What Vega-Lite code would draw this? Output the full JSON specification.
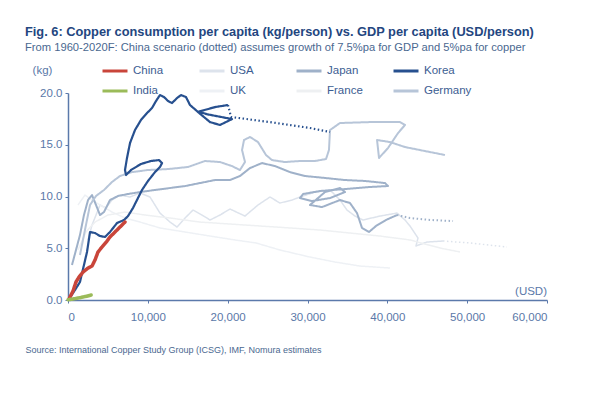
{
  "$schema": "https://vega.github.io/schema/vega-lite/v6.json",
  "width": 479,
  "height": 207,
  "autosize": {"type": "none"},
  "padding": {"left": 68, "top": 93, "right": 57, "bottom": 93},
  "background": "white",
  "title": {
    "text": "Fig. 6:  Copper consumption per capita (kg/person) vs. GDP per capita (USD/person)",
    "subtitle": "From 1960-2020F: China scenario (dotted) assumes growth of 7.5%pa for GDP and 5%pa for copper",
    "anchor": "start",
    "frame": "group",
    "dx": -43,
    "offset": 4,
    "color": "#23467f",
    "font": "Liberation Sans",
    "fontSize": 12.8,
    "fontWeight": "bold",
    "subtitleColor": "#4a6890",
    "subtitleFont": "Liberation Sans",
    "subtitleFontSize": 11.2,
    "subtitlePadding": 3
  },
  "config": {
    "view": {"stroke": null},
    "font": "Liberation Sans"
  },
  "data": {
    "values": [
      {"c": "China", "s": "a", "i": 1, "x": 130, "y": 0.10},
      {"c": "China", "s": "a", "i": 2, "x": 630, "y": 0.87},
      {"c": "China", "s": "a", "i": 3, "x": 1000, "y": 1.74},
      {"c": "China", "s": "a", "i": 4, "x": 1380, "y": 2.22},
      {"c": "China", "s": "a", "i": 5, "x": 1880, "y": 2.70},
      {"c": "China", "s": "a", "i": 6, "x": 2510, "y": 3.09},
      {"c": "China", "s": "a", "i": 7, "x": 3010, "y": 3.28},
      {"c": "China", "s": "a", "i": 8, "x": 3380, "y": 3.86},
      {"c": "China", "s": "a", "i": 9, "x": 3760, "y": 4.64},
      {"c": "China", "s": "a", "i": 10, "x": 4260, "y": 5.12},
      {"c": "China", "s": "a", "i": 11, "x": 4890, "y": 5.70},
      {"c": "China", "s": "a", "i": 12, "x": 5260, "y": 6.09},
      {"c": "China", "s": "a", "i": 13, "x": 5890, "y": 6.57},
      {"c": "China", "s": "a", "i": 14, "x": 6510, "y": 7.05},
      {"c": "China", "s": "a", "i": 15, "x": 7140, "y": 7.53},

      {"c": "India", "s": "a", "i": 1, "x": 0, "y": 0.02},
      {"c": "India", "s": "a", "i": 2, "x": 800, "y": 0.12},
      {"c": "India", "s": "a", "i": 3, "x": 1600, "y": 0.24},
      {"c": "India", "s": "a", "i": 4, "x": 2300, "y": 0.36},
      {"c": "India", "s": "a", "i": 5, "x": 2900, "y": 0.48},

      {"c": "Korea", "s": "a", "i": 1, "x": 130, "y": 0.10},
      {"c": "Korea", "s": "a", "i": 2, "x": 880, "y": 0.97},
      {"c": "Korea", "s": "a", "i": 3, "x": 1500, "y": 1.74},
      {"c": "Korea", "s": "a", "i": 4, "x": 2000, "y": 3.38},
      {"c": "Korea", "s": "a", "i": 5, "x": 2380, "y": 4.64},
      {"c": "Korea", "s": "a", "i": 6, "x": 2760, "y": 6.57},
      {"c": "Korea", "s": "a", "i": 7, "x": 3380, "y": 6.47},
      {"c": "Korea", "s": "a", "i": 8, "x": 4010, "y": 6.18},
      {"c": "Korea", "s": "a", "i": 9, "x": 4630, "y": 6.09},
      {"c": "Korea", "s": "a", "i": 10, "x": 5260, "y": 6.57},
      {"c": "Korea", "s": "a", "i": 11, "x": 6140, "y": 7.44},
      {"c": "Korea", "s": "a", "i": 12, "x": 7020, "y": 7.73},
      {"c": "Korea", "s": "a", "i": 13, "x": 7520, "y": 8.11},
      {"c": "Korea", "s": "a", "i": 14, "x": 8140, "y": 8.89},
      {"c": "Korea", "s": "a", "i": 15, "x": 8640, "y": 9.66},
      {"c": "Korea", "s": "a", "i": 16, "x": 9270, "y": 10.63},
      {"c": "Korea", "s": "a", "i": 17, "x": 10020, "y": 11.50},
      {"c": "Korea", "s": "a", "i": 18, "x": 10900, "y": 12.36},
      {"c": "Korea", "s": "a", "i": 19, "x": 11520, "y": 12.85},
      {"c": "Korea", "s": "a", "i": 20, "x": 11780, "y": 13.23},
      {"c": "Korea", "s": "a", "i": 21, "x": 11400, "y": 13.52},
      {"c": "Korea", "s": "a", "i": 22, "x": 10400, "y": 13.43},
      {"c": "Korea", "s": "a", "i": 23, "x": 9140, "y": 13.14},
      {"c": "Korea", "s": "a", "i": 24, "x": 7890, "y": 12.56},
      {"c": "Korea", "s": "a", "i": 25, "x": 7270, "y": 12.08},
      {"c": "Korea", "s": "a", "i": 26, "x": 7140, "y": 12.56},
      {"c": "Korea", "s": "a", "i": 27, "x": 7390, "y": 13.72},
      {"c": "Korea", "s": "a", "i": 28, "x": 7770, "y": 15.17},
      {"c": "Korea", "s": "a", "i": 29, "x": 8390, "y": 16.42},
      {"c": "Korea", "s": "a", "i": 30, "x": 9140, "y": 17.39},
      {"c": "Korea", "s": "a", "i": 31, "x": 9900, "y": 18.06},
      {"c": "Korea", "s": "a", "i": 32, "x": 10520, "y": 18.55},
      {"c": "Korea", "s": "a", "i": 33, "x": 11020, "y": 19.22},
      {"c": "Korea", "s": "a", "i": 34, "x": 11520, "y": 19.80},
      {"c": "Korea", "s": "a", "i": 35, "x": 12030, "y": 19.61},
      {"c": "Korea", "s": "a", "i": 36, "x": 12530, "y": 19.22},
      {"c": "Korea", "s": "a", "i": 37, "x": 13030, "y": 19.03},
      {"c": "Korea", "s": "a", "i": 38, "x": 13650, "y": 19.51},
      {"c": "Korea", "s": "a", "i": 39, "x": 14160, "y": 19.80},
      {"c": "Korea", "s": "a", "i": 40, "x": 14780, "y": 19.61},
      {"c": "Korea", "s": "a", "i": 41, "x": 15280, "y": 18.84},
      {"c": "Korea", "s": "a", "i": 42, "x": 16530, "y": 18.00},
      {"c": "Korea", "s": "a", "i": 43, "x": 17790, "y": 17.19},
      {"c": "Korea", "s": "a", "i": 44, "x": 19040, "y": 16.91},
      {"c": "Korea", "s": "a", "i": 45, "x": 20540, "y": 17.48},
      {"c": "Korea", "s": "a", "i": 46, "x": 17400, "y": 17.95},
      {"c": "Korea", "s": "a", "i": 47, "x": 16400, "y": 18.20},
      {"c": "Korea", "s": "a", "i": 48, "x": 18410, "y": 18.64},
      {"c": "Korea", "s": "a", "i": 49, "x": 20040, "y": 18.84},
      {"c": "Korea", "s": "f", "i": 1, "x": 20040, "y": 18.84},
      {"c": "Korea", "s": "f", "i": 2, "x": 20420, "y": 17.68},
      {"c": "Korea", "s": "f", "i": 3, "x": 25300, "y": 17.19},
      {"c": "Korea", "s": "f", "i": 4, "x": 30310, "y": 16.62},
      {"c": "Korea", "s": "f", "i": 5, "x": 32820, "y": 16.23},

      {"c": "Japan", "s": "a", "i": 1, "x": 500, "y": 3.38},
      {"c": "Japan", "s": "a", "i": 2, "x": 1000, "y": 4.83},
      {"c": "Japan", "s": "a", "i": 3, "x": 1500, "y": 6.28},
      {"c": "Japan", "s": "a", "i": 4, "x": 2000, "y": 8.21},
      {"c": "Japan", "s": "a", "i": 5, "x": 2510, "y": 9.66},
      {"c": "Japan", "s": "a", "i": 6, "x": 3010, "y": 10.14},
      {"c": "Japan", "s": "a", "i": 7, "x": 3510, "y": 9.18},
      {"c": "Japan", "s": "a", "i": 8, "x": 4010, "y": 8.21},
      {"c": "Japan", "s": "a", "i": 9, "x": 4510, "y": 8.50},
      {"c": "Japan", "s": "a", "i": 10, "x": 5260, "y": 9.66},
      {"c": "Japan", "s": "a", "i": 11, "x": 6260, "y": 10.05},
      {"c": "Japan", "s": "a", "i": 12, "x": 7520, "y": 10.24},
      {"c": "Japan", "s": "a", "i": 13, "x": 9020, "y": 10.43},
      {"c": "Japan", "s": "a", "i": 14, "x": 10900, "y": 10.63},
      {"c": "Japan", "s": "a", "i": 15, "x": 12780, "y": 10.82},
      {"c": "Japan", "s": "a", "i": 16, "x": 14660, "y": 11.01},
      {"c": "Japan", "s": "a", "i": 17, "x": 16530, "y": 11.30},
      {"c": "Japan", "s": "a", "i": 18, "x": 18410, "y": 11.59},
      {"c": "Japan", "s": "a", "i": 19, "x": 20290, "y": 11.59},
      {"c": "Japan", "s": "a", "i": 20, "x": 21540, "y": 11.98},
      {"c": "Japan", "s": "a", "i": 21, "x": 22800, "y": 12.75},
      {"c": "Japan", "s": "a", "i": 22, "x": 24300, "y": 13.23},
      {"c": "Japan", "s": "a", "i": 23, "x": 25930, "y": 12.94},
      {"c": "Japan", "s": "a", "i": 24, "x": 27810, "y": 12.36},
      {"c": "Japan", "s": "a", "i": 25, "x": 29690, "y": 11.98},
      {"c": "Japan", "s": "a", "i": 26, "x": 32190, "y": 11.79},
      {"c": "Japan", "s": "a", "i": 27, "x": 34700, "y": 11.59},
      {"c": "Japan", "s": "a", "i": 28, "x": 37200, "y": 11.50},
      {"c": "Japan", "s": "a", "i": 29, "x": 39710, "y": 11.30},
      {"c": "Japan", "s": "a", "i": 30, "x": 40080, "y": 11.01},
      {"c": "Japan", "s": "a", "i": 31, "x": 37830, "y": 10.92},
      {"c": "Japan", "s": "a", "i": 32, "x": 34700, "y": 10.72},
      {"c": "Japan", "s": "a", "i": 33, "x": 31570, "y": 10.53},
      {"c": "Japan", "s": "a", "i": 34, "x": 29440, "y": 10.24},
      {"c": "Japan", "s": "a", "i": 35, "x": 29060, "y": 9.85},
      {"c": "Japan", "s": "a", "i": 36, "x": 30560, "y": 9.56},
      {"c": "Japan", "s": "a", "i": 37, "x": 32820, "y": 9.85},
      {"c": "Japan", "s": "a", "i": 38, "x": 34700, "y": 10.43},
      {"c": "Japan", "s": "a", "i": 39, "x": 34070, "y": 10.82},
      {"c": "Japan", "s": "a", "i": 40, "x": 32190, "y": 10.43},
      {"c": "Japan", "s": "a", "i": 41, "x": 30310, "y": 9.18},
      {"c": "Japan", "s": "a", "i": 42, "x": 31820, "y": 8.98},
      {"c": "Japan", "s": "a", "i": 43, "x": 34070, "y": 9.66},
      {"c": "Japan", "s": "a", "i": 44, "x": 35320, "y": 9.37},
      {"c": "Japan", "s": "a", "i": 45, "x": 36200, "y": 8.40},
      {"c": "Japan", "s": "a", "i": 46, "x": 36830, "y": 6.96},
      {"c": "Japan", "s": "a", "i": 47, "x": 37700, "y": 6.57},
      {"c": "Japan", "s": "a", "i": 48, "x": 38580, "y": 7.15},
      {"c": "Japan", "s": "a", "i": 49, "x": 39830, "y": 7.73},
      {"c": "Japan", "s": "a", "i": 50, "x": 41210, "y": 8.21},
      {"c": "Japan", "s": "f", "i": 1, "x": 41210, "y": 8.21},
      {"c": "Japan", "s": "f", "i": 2, "x": 42840, "y": 7.92},
      {"c": "Japan", "s": "f", "i": 3, "x": 45340, "y": 7.73},
      {"c": "Japan", "s": "f", "i": 4, "x": 48230, "y": 7.63},

      {"c": "Germany", "s": "a", "i": 1, "x": 1500, "y": 4.35},
      {"c": "Germany", "s": "a", "i": 2, "x": 2250, "y": 7.25},
      {"c": "Germany", "s": "a", "i": 3, "x": 2760, "y": 9.18},
      {"c": "Germany", "s": "a", "i": 4, "x": 3510, "y": 10.05},
      {"c": "Germany", "s": "a", "i": 5, "x": 4510, "y": 10.63},
      {"c": "Germany", "s": "a", "i": 6, "x": 5510, "y": 11.40},
      {"c": "Germany", "s": "a", "i": 7, "x": 6510, "y": 11.98},
      {"c": "Germany", "s": "a", "i": 8, "x": 8020, "y": 12.36},
      {"c": "Germany", "s": "a", "i": 9, "x": 10020, "y": 12.56},
      {"c": "Germany", "s": "a", "i": 10, "x": 12530, "y": 12.65},
      {"c": "Germany", "s": "a", "i": 11, "x": 15030, "y": 12.85},
      {"c": "Germany", "s": "a", "i": 12, "x": 17160, "y": 13.43},
      {"c": "Germany", "s": "a", "i": 13, "x": 19040, "y": 13.33},
      {"c": "Germany", "s": "a", "i": 14, "x": 20540, "y": 12.94},
      {"c": "Germany", "s": "a", "i": 15, "x": 21540, "y": 12.56},
      {"c": "Germany", "s": "a", "i": 16, "x": 22170, "y": 13.33},
      {"c": "Germany", "s": "a", "i": 17, "x": 21800, "y": 14.49},
      {"c": "Germany", "s": "a", "i": 18, "x": 22050, "y": 15.46},
      {"c": "Germany", "s": "a", "i": 19, "x": 22800, "y": 15.75},
      {"c": "Germany", "s": "a", "i": 20, "x": 23800, "y": 15.26},
      {"c": "Germany", "s": "a", "i": 21, "x": 24800, "y": 14.01},
      {"c": "Germany", "s": "a", "i": 22, "x": 25550, "y": 13.52},
      {"c": "Germany", "s": "a", "i": 23, "x": 27180, "y": 13.33},
      {"c": "Germany", "s": "a", "i": 24, "x": 29060, "y": 13.43},
      {"c": "Germany", "s": "a", "i": 25, "x": 30940, "y": 13.43},
      {"c": "Germany", "s": "a", "i": 26, "x": 32320, "y": 13.62},
      {"c": "Germany", "s": "a", "i": 27, "x": 32690, "y": 14.49},
      {"c": "Germany", "s": "a", "i": 28, "x": 32820, "y": 16.42},
      {"c": "Germany", "s": "a", "i": 29, "x": 34070, "y": 17.10},
      {"c": "Germany", "s": "a", "i": 30, "x": 37830, "y": 17.19},
      {"c": "Germany", "s": "a", "i": 31, "x": 41590, "y": 17.19},
      {"c": "Germany", "s": "a", "i": 32, "x": 42210, "y": 16.91},
      {"c": "Germany", "s": "a", "i": 33, "x": 41340, "y": 16.13},
      {"c": "Germany", "s": "a", "i": 34, "x": 40080, "y": 14.68},
      {"c": "Germany", "s": "a", "i": 35, "x": 38960, "y": 13.72},
      {"c": "Germany", "s": "a", "i": 36, "x": 38710, "y": 15.46},
      {"c": "Germany", "s": "a", "i": 37, "x": 40330, "y": 15.26},
      {"c": "Germany", "s": "a", "i": 38, "x": 42210, "y": 14.78},
      {"c": "Germany", "s": "a", "i": 39, "x": 44720, "y": 14.39},
      {"c": "Germany", "s": "a", "i": 40, "x": 47220, "y": 14.01},

      {"c": "USA", "s": "a", "i": 1, "x": 2510, "y": 5.80},
      {"c": "USA", "s": "a", "i": 2, "x": 3010, "y": 7.25},
      {"c": "USA", "s": "a", "i": 3, "x": 3510, "y": 8.21},
      {"c": "USA", "s": "a", "i": 4, "x": 4010, "y": 9.18},
      {"c": "USA", "s": "a", "i": 5, "x": 4760, "y": 8.89},
      {"c": "USA", "s": "a", "i": 6, "x": 5510, "y": 9.66},
      {"c": "USA", "s": "a", "i": 7, "x": 6510, "y": 10.14},
      {"c": "USA", "s": "a", "i": 8, "x": 7770, "y": 9.95},
      {"c": "USA", "s": "a", "i": 9, "x": 9020, "y": 10.34},
      {"c": "USA", "s": "a", "i": 10, "x": 10270, "y": 9.95},
      {"c": "USA", "s": "a", "i": 11, "x": 11520, "y": 8.40},
      {"c": "USA", "s": "a", "i": 12, "x": 12780, "y": 7.53},
      {"c": "USA", "s": "a", "i": 13, "x": 13650, "y": 7.05},
      {"c": "USA", "s": "a", "i": 14, "x": 14660, "y": 7.92},
      {"c": "USA", "s": "a", "i": 15, "x": 15660, "y": 8.69},
      {"c": "USA", "s": "a", "i": 16, "x": 16780, "y": 8.21},
      {"c": "USA", "s": "a", "i": 17, "x": 17790, "y": 7.73},
      {"c": "USA", "s": "a", "i": 18, "x": 19040, "y": 8.21},
      {"c": "USA", "s": "a", "i": 19, "x": 20290, "y": 8.79},
      {"c": "USA", "s": "a", "i": 20, "x": 22170, "y": 8.11},
      {"c": "USA", "s": "a", "i": 21, "x": 23800, "y": 9.18},
      {"c": "USA", "s": "a", "i": 22, "x": 25300, "y": 9.95},
      {"c": "USA", "s": "a", "i": 23, "x": 26550, "y": 9.37},
      {"c": "USA", "s": "a", "i": 24, "x": 28060, "y": 9.66},
      {"c": "USA", "s": "a", "i": 25, "x": 29060, "y": 9.95},
      {"c": "USA", "s": "a", "i": 26, "x": 30940, "y": 10.43},
      {"c": "USA", "s": "a", "i": 27, "x": 32820, "y": 10.63},
      {"c": "USA", "s": "a", "i": 28, "x": 34070, "y": 9.66},
      {"c": "USA", "s": "a", "i": 29, "x": 34950, "y": 8.69},
      {"c": "USA", "s": "a", "i": 30, "x": 35950, "y": 8.11},
      {"c": "USA", "s": "a", "i": 31, "x": 36950, "y": 7.73},
      {"c": "USA", "s": "a", "i": 32, "x": 39080, "y": 8.11},
      {"c": "USA", "s": "a", "i": 33, "x": 41210, "y": 8.40},
      {"c": "USA", "s": "a", "i": 34, "x": 42210, "y": 7.73},
      {"c": "USA", "s": "a", "i": 35, "x": 42840, "y": 7.15},
      {"c": "USA", "s": "a", "i": 36, "x": 43840, "y": 5.99},
      {"c": "USA", "s": "a", "i": 37, "x": 43590, "y": 5.22},
      {"c": "USA", "s": "a", "i": 38, "x": 44970, "y": 5.60},
      {"c": "USA", "s": "a", "i": 39, "x": 46970, "y": 5.70},
      {"c": "USA", "s": "f", "i": 1, "x": 46970, "y": 5.70},
      {"c": "USA", "s": "f", "i": 2, "x": 50350, "y": 5.51},
      {"c": "USA", "s": "f", "i": 3, "x": 54990, "y": 5.12},

      {"c": "UK", "s": "a", "i": 1, "x": 1250, "y": 9.18},
      {"c": "UK", "s": "a", "i": 2, "x": 2130, "y": 10.14},
      {"c": "UK", "s": "a", "i": 3, "x": 3010, "y": 9.66},
      {"c": "UK", "s": "a", "i": 4, "x": 4010, "y": 9.18},
      {"c": "UK", "s": "a", "i": 5, "x": 5510, "y": 8.50},
      {"c": "UK", "s": "a", "i": 6, "x": 7140, "y": 7.92},
      {"c": "UK", "s": "a", "i": 7, "x": 9020, "y": 7.53},
      {"c": "UK", "s": "a", "i": 8, "x": 11520, "y": 6.96},
      {"c": "UK", "s": "a", "i": 9, "x": 14660, "y": 6.57},
      {"c": "UK", "s": "a", "i": 10, "x": 17790, "y": 6.18},
      {"c": "UK", "s": "a", "i": 11, "x": 20920, "y": 5.80},
      {"c": "UK", "s": "a", "i": 12, "x": 23550, "y": 5.51},
      {"c": "UK", "s": "a", "i": 13, "x": 26550, "y": 4.83},
      {"c": "UK", "s": "a", "i": 14, "x": 30310, "y": 4.15},
      {"c": "UK", "s": "a", "i": 15, "x": 33440, "y": 3.67},
      {"c": "UK", "s": "a", "i": 16, "x": 36580, "y": 3.28},
      {"c": "UK", "s": "a", "i": 17, "x": 40330, "y": 3.09},

      {"c": "France", "s": "a", "i": 1, "x": 1250, "y": 4.83},
      {"c": "France", "s": "a", "i": 2, "x": 2250, "y": 6.57},
      {"c": "France", "s": "a", "i": 3, "x": 3380, "y": 7.53},
      {"c": "France", "s": "a", "i": 4, "x": 5010, "y": 8.21},
      {"c": "France", "s": "a", "i": 5, "x": 7140, "y": 8.50},
      {"c": "France", "s": "a", "i": 6, "x": 9650, "y": 8.21},
      {"c": "France", "s": "a", "i": 7, "x": 12780, "y": 7.92},
      {"c": "France", "s": "a", "i": 8, "x": 16530, "y": 7.53},
      {"c": "France", "s": "a", "i": 9, "x": 20290, "y": 7.34},
      {"c": "France", "s": "a", "i": 10, "x": 24050, "y": 7.15},
      {"c": "France", "s": "a", "i": 11, "x": 27810, "y": 6.96},
      {"c": "France", "s": "a", "i": 12, "x": 31570, "y": 6.76},
      {"c": "France", "s": "a", "i": 13, "x": 35320, "y": 6.47},
      {"c": "France", "s": "a", "i": 14, "x": 39080, "y": 6.18},
      {"c": "France", "s": "a", "i": 15, "x": 42840, "y": 5.80},
      {"c": "France", "s": "a", "i": 16, "x": 46600, "y": 5.02},
      {"c": "France", "s": "a", "i": 17, "x": 49100, "y": 4.64}
    ]
  },
  "layer": [
    {
      "encoding": {
        "x": {
          "field": "x", "type": "quantitative",
          "scale": {"domain": [0, 60000], "nice": false},
          "axis": {
            "values": [0, 10000, 20000, 30000, 40000, 50000, 60000],
            "format": ",.0f",
            "grid": false,
            "domainColor": "#5b79ab",
            "domainWidth": 1.5,
            "tickColor": "#5b79ab",
            "tickSize": 3,
            "labelColor": "#5a78a8",
            "labelFontSize": 11.5,
            "labelPadding": 8,
            "title": "Source: International Copper Study Group (ICSG), IMF, Nomura estimates",
            "titleFontSize": 9,
            "titleFontWeight": "normal",
            "titleColor": "#4a6890",
            "titleAnchor": "start",
            "titleAlign": "left",
            "titleX": -43,
            "titleY": 49,
            "titleBaseline": "middle"
          }
        },
        "y": {
          "field": "y", "type": "quantitative",
          "scale": {"domain": [0, 20], "nice": false},
          "axis": {
            "values": [0, 2.5, 5, 7.5, 10, 12.5, 15, 17.5, 20],
            "format": ".1f",
            "grid": false,
            "domainColor": "#5b79ab",
            "domainWidth": 1.5,
            "tickColor": "#5b79ab",
            "tickSize": 3,
            "labelColor": "#5a78a8",
            "labelFontSize": 11.5,
            "labelPadding": 3,
            "title": "(kg)",
            "titleAngle": 0,
            "titleFontSize": 11.5,
            "titleFontWeight": "normal",
            "titleColor": "#5a78a8",
            "titleAlign": "center",
            "titleBaseline": "middle",
            "titleX": -26,
            "titleY": -23
          }
        },
        "color": {
          "field": "c", "type": "nominal",
          "scale": {
            "domain": ["China", "India", "USA", "UK", "Japan", "France", "Korea", "Germany"],
            "range": ["#c9453a", "#9bbb59", "#dde3ec", "#eef1f5", "#9fb1c9", "#eef0f2", "#27508f", "#b7c5d8"]
          },
          "legend": {
            "title": null,
            "orient": "none",
            "legendX": 33,
            "legendY": -36,
            "columns": 4,
            "gridAlign": "all",
            "columnPadding": 12,
            "rowPadding": -11,
            "symbolType": "stroke",
            "symbolSize": 625,
            "symbolStrokeWidth": 3,
            "labelFontSize": 11.5,
            "labelColor": "#3c5d92",
            "labelOffset": 4
          }
        },
        "strokeDash": {
          "field": "s", "type": "nominal",
          "scale": {"domain": ["a", "f"], "range": [[1, 0], [1.5, 2.5]]},
          "legend": null
        },
        "order": {"field": "i", "type": "quantitative"}
      },
      "layer": [
        {
          "transform": [{"filter": {"field": "c", "oneOf": ["France", "UK", "USA"]}}],
          "mark": {"type": "line", "strokeWidth": 1.5, "strokeJoin": "round"}
        },
        {
          "transform": [{"filter": {"field": "c", "oneOf": ["Germany", "Japan"]}}],
          "mark": {"type": "line", "strokeWidth": 2, "strokeJoin": "round"}
        },
        {
          "transform": [{"filter": {"field": "c", "oneOf": ["Korea"]}}],
          "mark": {"type": "line", "strokeWidth": 2.2, "strokeJoin": "round"}
        },
        {
          "transform": [{"filter": {"field": "c", "oneOf": ["China", "India"]}}],
          "mark": {"type": "line", "strokeWidth": 3.5, "strokeJoin": "round", "strokeCap": "round"}
        }
      ]
    },
    {
      "data": {"values": [{"u": "(USD)"}]},
      "mark": {"type": "text", "align": "right", "baseline": "bottom", "dy": -3, "fontSize": 11.5, "color": "#5a78a8"},
      "encoding": {
        "x": {"datum": 60000, "type": "quantitative"},
        "y": {"datum": 0, "type": "quantitative"},
        "text": {"field": "u", "type": "nominal"}
      }
    }
  ]
}
